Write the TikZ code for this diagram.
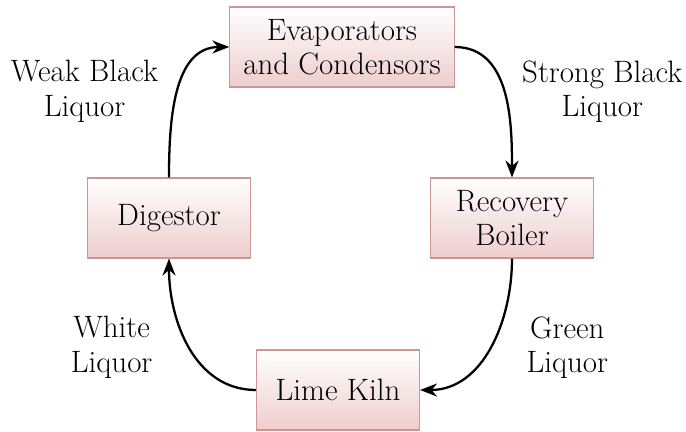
\documentclass[tikz,border=0pt]{standalone}
\usetikzlibrary{arrows.meta,positioning}
\definecolor{boxborder}{RGB}{205,150,150}
\definecolor{boxbottom}{RGB}{238,205,205}
\tikzstyle{unit} = [rectangle, minimum width=3.26cm, minimum height=1.6cm, inner xsep=0.27cm, align=center, draw=boxborder, line width=0.6pt, top color=white, bottom color=boxbottom, font=\fontsize{17.6}{19.5}\selectfont]
\tikzstyle{liquor} = [align=center, font=\fontsize{17.6}{19.5}\selectfont]

\begin{document}
\begin{tikzpicture}[->,>={Stealth[length=3.4mm,width=2.6mm]},line width=1.3pt]
    \useasboundingbox (-6.84,0.94) rectangle (6.88,-7.70);

        \node[unit] (Evap) {Evaporators\\and Condensors};
        \node[unit] (Dig) [on grid, below left=3.42cm and 3.46cm of Evap] {Digestor};
        \node[unit] (Rec) [on grid, below right=3.42cm and 3.40cm of Evap] {Recovery\\Boiler};
        \node[unit] (Kiln) [on grid, below left=6.86cm and 0.08cm of Evap] {Lime Kiln};

        \path (Dig)  edge [out=90,in=180] node[liquor,left=0.26cm] {Weak Black\\Liquor} (Evap)
              (Evap) edge [out=0,in=90] node[liquor,right=0.22cm] {Strong Black\\Liquor} (Rec)
              (Rec)  edge [out=-90,in=0] node[liquor,right=0.6cm] {Green\\Liquor} (Kiln)
              (Kiln) edge [out=180,in=-90] node[liquor,left=0.6cm] {White\\Liquor} (Dig);
        \end{tikzpicture}
\end{document}
